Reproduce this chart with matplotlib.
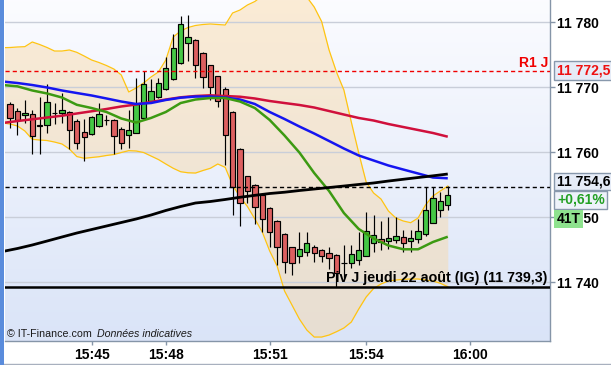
import numpy as np
import matplotlib
matplotlib.use('Agg')
import matplotlib.pyplot as plt
from matplotlib.patches import Rectangle
from matplotlib.lines import Line2D

W, H = 611, 365

# ---------------- data ----------------
opens = [11767.5, 11766.3, 11765.7, 11765.9, 11764.2, 11764.2, 11766.0, 11766.0, 11766.2, 11764.8,
         11763.1, 11762.8, 11764.0, 11764.9, 11764.9, 11763.6, 11762.6, 11763.0, 11765.2, 11767.9,
         11768.5, 11769.7, 11771.2, 11773.7, 11776.8, 11777.2, 11775.2, 11773.4, 11771.7, 11769.8,
         11766.2, 11760.5, 11756.3, 11754.9, 11753.4, 11751.5, 11749.5, 11747.5, 11745.4, 11744.1,
         11744.6, 11745.5, 11745.0, 11744.5, 11744.2, 11742.9, 11742.9, 11743.5, 11744.1, 11746.0,
         11746.6, 11746.3, 11746.5, 11746.9, 11746.4, 11746.6, 11747.4, 11749.2, 11751.2, 11751.9]
highs = [11767.8, 11766.8, 11768.0, 11766.5, 11768.5, 11770.5, 11767.6, 11769.1, 11766.4, 11765.1,
         11765.1, 11765.6, 11767.6, 11765.7, 11765.1, 11763.9, 11766.5, 11771.5, 11772.5, 11771.3,
         11771.4, 11774.7, 11778.2, 11781.0, 11781.1, 11777.4, 11775.4, 11773.5, 11771.8, 11770.0,
         11766.4, 11760.6, 11756.4, 11755.1, 11753.5, 11751.6, 11749.6, 11747.6, 11745.5, 11747.8,
         11747.8, 11745.7, 11745.1, 11745.5, 11744.4, 11745.7, 11745.7, 11747.8, 11750.8, 11750.4,
         11749.4, 11750.1, 11750.0, 11748.0, 11748.0, 11749.7, 11754.6, 11754.6, 11753.9, 11754.8]
lows = [11763.7, 11762.7, 11764.5, 11759.7, 11759.7, 11763.0, 11764.4, 11764.5, 11760.5, 11760.5,
        11758.6, 11762.7, 11763.9, 11764.2, 11759.7, 11760.5, 11760.6, 11762.9, 11765.1, 11767.8,
        11768.4, 11769.6, 11771.1, 11773.6, 11774.1, 11771.5, 11769.9, 11768.0, 11766.9, 11758.0,
        11750.4, 11748.7, 11752.2, 11749.0, 11747.7, 11745.5, 11742.7, 11741.4, 11741.1, 11743.0,
        11744.0, 11743.1, 11743.2, 11742.1, 11739.3, 11740.7, 11742.2, 11742.7, 11744.0, 11744.7,
        11745.0, 11745.1, 11746.0, 11744.7, 11744.7, 11746.1, 11747.2, 11749.1, 11750.0, 11751.2]
closes = [11765.2, 11765.0, 11766.1, 11762.5, 11764.1, 11767.7, 11766.1, 11766.5, 11763.5, 11761.4,
          11762.3, 11765.4, 11765.9, 11765.0, 11762.5, 11761.5, 11763.4, 11767.5, 11770.5, 11769.5,
          11770.6, 11772.9, 11776.0, 11779.8, 11777.7, 11773.4, 11771.6, 11770.0, 11767.9, 11762.7,
          11754.7, 11752.2, 11754.1, 11751.6, 11749.7, 11747.7, 11745.4, 11743.2, 11742.9, 11745.2,
          11746.1, 11744.5, 11744.1, 11743.7, 11741.4, 11743.0, 11744.4, 11744.9, 11747.9, 11747.3,
          11746.2, 11746.8, 11747.1, 11746.0, 11746.8, 11747.9, 11751.2, 11753.0, 11752.5, 11753.4]

# moving averages, sampled at candle indices -1, 1, 3, ..., 59
ma_idx = list(range(-1, 60, 2))
ma_green = [11770.35, 11770.15, 11769.51, 11769.05, 11768.43, 11767.31, 11766.81, 11766.2, 11765.2, 11764.58,
            11765.28, 11766.2, 11767.58, 11768.12, 11768.35, 11768.35, 11767.81, 11766.81, 11764.97, 11762.58,
            11759.97, 11756.81, 11754.05, 11750.66, 11748.2, 11746.74, 11745.66, 11745.08, 11745.08, 11746.2,
            11747.01]
ma_blue = [11770.89, 11770.66, 11770.35, 11769.97, 11769.51, 11769.12, 11768.74, 11768.28, 11767.81, 11767.43,
           11767.58, 11768.05, 11768.4, 11768.58, 11768.58, 11768.43, 11768.12, 11767.43, 11766.2, 11765.12,
           11763.97, 11762.89, 11761.74, 11760.58, 11759.51, 11758.74, 11757.97, 11757.35, 11756.74, 11756.12,
           11756.0]
ma_red = [11764.51, 11764.81, 11765.08, 11765.35, 11765.63, 11765.97, 11766.31, 11766.66, 11767.05, 11767.35,
          11767.74, 11768.12, 11768.46, 11768.66, 11768.77, 11768.66, 11768.55, 11768.28, 11767.89, 11767.58,
          11767.28, 11766.89, 11766.35, 11765.81, 11765.28, 11764.89, 11764.35, 11763.89, 11763.43, 11762.97,
          11762.4]
ma_black = [11744.74, 11745.2, 11745.74, 11746.35, 11746.97, 11747.58, 11748.12, 11748.66, 11749.2, 11749.74,
            11750.35, 11751.05, 11751.66, 11752.2, 11752.43, 11752.74, 11753.08, 11753.38, 11753.66, 11753.86,
            11754.12, 11754.35, 11754.58, 11754.81, 11755.05, 11755.28, 11755.58, 11755.85, 11756.12, 11756.38,
            11756.66]

# Bollinger bands, candle indices -1 .. 59
band_idx = list(range(-1, 60))
band_upper = [11776.09, 11776.12, 11776.2, 11776.25, 11776.97, 11776.58, 11776.12, 11775.58, 11775.58, 11775.74,
              11775.38, 11774.81, 11774.2, 11773.81, 11773.35, 11772.81, 11771.89, 11769.28, 11769.89, 11770.66,
              11771.58, 11772.35, 11774.2, 11777.74, 11778.66, 11779.2, 11779.51, 11779.66, 11779.74, 11779.66,
              11779.58, 11781.43, 11781.89, 11782.66, 11783.2, 11784.05, 11784.97, 11785.58, 11785.74, 11785.28,
              11784.66, 11783.89, 11782.35, 11780.12, 11775.74, 11772.35, 11769.58, 11764.66, 11759.89, 11755.43,
              11753.74, 11752.81, 11750.97, 11749.89, 11749.43, 11749.17, 11749.89, 11751.89, 11753.28, 11754.05,
              11754.81]
band_lower = [11764.51, 11764.35, 11764.05, 11763.28, 11762.0, 11761.89, 11761.81, 11761.58, 11761.28, 11760.51,
              11759.35, 11759.08, 11759.2, 11759.32, 11759.51, 11759.66, 11759.97, 11760.25, 11760.2, 11759.97,
              11759.43, 11758.89, 11758.2, 11757.54, 11757.01, 11756.85, 11756.81, 11757.2, 11757.54, 11758.2,
              11757.69, 11754.97, 11753.12, 11751.66, 11749.74, 11747.74, 11744.81, 11742.51, 11738.66, 11736.51,
              11734.35, 11732.66, 11731.58, 11731.58, 11731.89, 11732.4, 11732.97, 11733.89, 11735.89, 11737.74,
              11739.05, 11739.74, 11740.2, 11740.35, 11740.46, 11740.51, 11740.51, 11740.35, 11740.2, 11739.85,
              11739.32]

r1_level = 11772.5
pivot_level = 11739.3
last_level = 11754.6
x_tick_pos = [11, 21, 35, 48, 62]
x_tick_labels = ['15:45', '15:48', '15:51', '15:54', '16:00']
y_ticks = [11740, 11750, 11760, 11770, 11780]
y_tick_labels = ['11 740', '11 750', '11 760', '11 770', '11 780']

# ---------------- figure ----------------
FONT = 'Liberation Sans'
plt.rcParams['font.family'] = [FONT, 'DejaVu Sans']

fig = plt.figure(figsize=(W / 100, H / 100), dpi=100, facecolor='white')

def fx(px):
    return px / W

def fy(py):
    return 1 - py / H

ax_l, ax_r, ax_t, ax_b = 4.7, 549.5, 0.0, 341.0
ax = fig.add_axes([fx(ax_l), fy(ax_b), fx(ax_r) - fx(ax_l), fy(ax_t) - fy(ax_b)])

xmin, xmax = -0.714, 72.71
ymin, ymax = 11730.97, 11783.43

# background gradient
grad = np.linspace(0, 1, 256)[:, None]
c_top = np.array([0.985, 0.988, 1.0])
c_bot = np.array([0.855, 0.894, 0.972])
img = c_top[None, None, :] * (1 - grad[:, :, None]) + c_bot[None, None, :] * grad[:, :, None]
ax.imshow(img, extent=[xmin, xmax, ymin, ymax], aspect='auto', zorder=0, interpolation='bilinear')

# Bollinger band fill and edges
ax.fill_between(band_idx, band_lower, band_upper, color=(0.98, 0.84, 0.62), alpha=0.42, lw=0, zorder=1)
ax.plot(band_idx, band_upper, color='#FFC412', lw=0.9, zorder=4)
ax.plot(band_idx, band_lower, color='#FFC412', lw=0.9, zorder=4)

# grid
for yv in y_ticks:
    ax.axhline(yv, color='#C9CED9', lw=1.0, zorder=2)

# candles
body_w = 0.72
for i in range(len(opens)):
    o, h, l, c = opens[i], highs[i], lows[i], closes[i]
    ax.vlines(i, l, h, color='black', lw=0.85, zorder=5)
    lo, hi = min(o, c), max(o, c)
    fc = '#45C845' if c >= o else '#DD6060'
    ax.add_patch(Rectangle((i - body_w / 2, lo), body_w, max(hi - lo, 0.05),
                           facecolor=fc, edgecolor='black', lw=0.85, zorder=6))

# moving averages
ax.plot(ma_idx, ma_red, color='#D0103C', lw=1.8, zorder=7, solid_capstyle='butt')
ax.plot(ma_idx, ma_blue, color='#1515F0', lw=1.8, zorder=7, solid_capstyle='butt')
ax.plot(ma_idx, ma_green, color='#3C9A12', lw=1.8, zorder=7, solid_capstyle='butt')
ax.plot(ma_idx, ma_black, color='black', lw=2.0, zorder=7, solid_capstyle='butt')

# horizontal reference lines
ax.axhline(r1_level, color='#F00000', lw=1.0, ls=(0, (3, 2.2)), zorder=8)
ax.axhline(last_level, color='black', lw=1.0, ls=(0, (3, 2.2)), zorder=8)
ax.axhline(pivot_level, color='black', lw=1.8, zorder=8)

ax.set_xlim(xmin, xmax)
ax.set_ylim(ymin, ymax)

# axes styling
for s in ['left', 'top']:
    ax.spines[s].set_visible(False)
for s in ['right', 'bottom']:
    ax.spines[s].set_color('#8595A8')
    ax.spines[s].set_linewidth(1.0)
ax.yaxis.tick_right()
ax.set_yticks(y_ticks)
ax.set_yticklabels(y_tick_labels)
ax.set_xticks(x_tick_pos)
ax.set_xticklabels(x_tick_labels)
ax.tick_params(axis='y', direction='out', length=3.6, width=1, color='#8595A8', pad=1.6,
               labelsize=10, labelcolor='black')
ax.tick_params(axis='x', direction='out', length=3.0, width=1, color='#8595A8', pad=2.0,
               labelsize=10, labelcolor='black')
for lab in ax.get_xticklabels() + ax.get_yticklabels():
    lab.set_fontweight('bold')
    lab.set_family(FONT)

# in-plot texts
fig.text(fx(548), fy(67.3), 'R1 J', color='#F00000', fontsize=10, fontweight='bold',
         ha='right', va='baseline', family=FONT)
fig.text(fx(547), fy(281.7), 'Piv J jeudi 22 août (IG) (11 739,3)', color='black', fontsize=10.3,
         fontweight='bold', ha='right', va='baseline', family=FONT)
fig.text(fx(7), fy(337), '\u00a9 IT-Finance.com', color='#1A1A1A', fontsize=7.7,
         ha='left', va='baseline', family=FONT)
fig.text(fx(96.5), fy(337), 'Données indicatives', color='#1A1A1A', fontsize=7.7, style='italic',
         ha='left', va='baseline', family=FONT)

# right-side label boxes
def box(x0, y0, x1, y1, fc, ec):
    r = Rectangle((fx(x0), fy(y1)), fx(x1) - fx(x0), fy(y0) - fy(y1), transform=fig.transFigure,
                  facecolor=fc, edgecolor=ec, lw=1.0 if ec != 'none' else 0, zorder=5)
    fig.add_artist(r)

box(554, 61, 612, 80, '#E6ECF7', '#8898AC')
fig.text(fx(557), fy(70.8), '11 772,5', color='#EE1111', fontsize=10, fontweight='bold',
         ha='left', va='center', family=FONT, zorder=6)
box(554, 172.7, 612, 190, '#E6ECF7', '#8898AC')
fig.text(fx(557), fy(181.5), '11 754,6', color='black', fontsize=10, fontweight='bold',
         ha='left', va='center', family=FONT, zorder=6)
box(554, 190.7, 607, 209, '#EEF2FA', '#8898AC')
fig.text(fx(557), fy(200), '+0,61%', color='#23A023', fontsize=10, fontweight='bold',
         ha='left', va='center', family=FONT, zorder=6)
box(554, 210, 583, 228, '#8EE28E', 'none')
fig.text(fx(556.5), fy(219.2), '41T', color='black', fontsize=10, fontweight='bold',
         ha='left', va='center', family=FONT, zorder=6)

# left blue stripe and bottom border
fig.add_artist(Rectangle((0, 0), fx(4.2), 1, transform=fig.transFigure, facecolor='#5A8CDC',
                         edgecolor='none', zorder=5))
fig.add_artist(Line2D([0, 1], [fy(364), fy(364)], transform=fig.transFigure, color='#A8B0BE', lw=1))

fig.savefig('out.png', dpi=100, facecolor='white')
